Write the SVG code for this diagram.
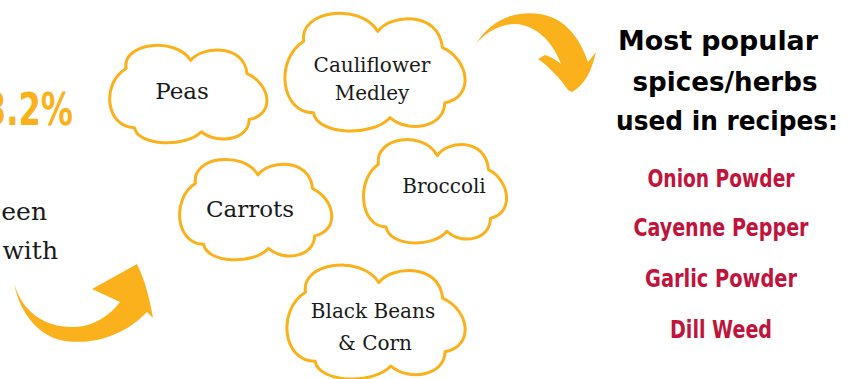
<svg xmlns="http://www.w3.org/2000/svg" xmlns:xlink="http://www.w3.org/1999/xlink" width="858" height="379" viewBox="0 0 858 379">
<style>
.cloud{fill:#fff;stroke:#fbb11b;stroke-width:3;stroke-linejoin:round;vector-effect:non-scaling-stroke}
.lbl{font-family:"DejaVu Serif","Liberation Serif",serif;fill:#1a1a1a;text-anchor:middle}
.arrow{fill:#fbb11b}
.title{font-family:"DejaVu Sans","Liberation Sans",sans-serif;font-weight:bold;font-size:27px;fill:#000;text-anchor:middle}
.spice{font-family:"DejaVu Sans Condensed","DejaVu Sans","Liberation Sans",sans-serif;font-weight:bold;font-size:25px;fill:#c0143c;text-anchor:middle}
.pct{font-family:"DejaVu Sans Condensed","DejaVu Sans","Liberation Sans",sans-serif;font-weight:bold;font-size:44px;fill:#fbb11b}
.side{font-family:"DejaVu Serif","Liberation Serif",serif;font-size:25px;fill:#1a1a1a;text-anchor:end}
</style>
<defs>
<path id="cloud" class="cloud" d="M24,30 C20,5 70,-2 85,22 C95,8 135,5 138,35 C160,45 165,75 140,80 C140,100 110,105 95,92 C80,108 35,106 32,88 C5,88 0,45 24,30 Z"/>
</defs>
<rect width="858" height="379" fill="#fff"/>

<g id="left-text">
<text class="pct" x="-16" y="125" textLength="89" lengthAdjust="spacingAndGlyphs">3.2%</text>
<text class="side" x="47" y="220">een</text>
<text class="side" x="58" y="259">with</text>
</g>

<g id="connectors">
<path class="arrow" d="M14,283 C22,312 45,328 75,327 C95,326 110,315 120,302 L92,289 L137,264 C145,280 150,300 153,318 L147,312 C125,335 95,345 65,341 C40,337 20,315 14,283 Z"/>
<path class="arrow" d="M476,44 C490,20 515,10 540,14 C565,18 580,38 588,62 L596,52 C592,70 585,85 572,92 L568,90 C560,78 548,66 538,59 L545,55 C552,57 556,60 561,64 C552,40 535,25 515,24 C500,24 485,33 476,44 Z"/>
</g>

<g id="node-peas">
<use href="#cloud" transform="translate(100.6,37.9) scale(1.061,1.02)"/>
<text class="lbl" x="182" y="99" font-size="23">Peas</text>
</g>
<g id="node-cauliflower">
<use href="#cloud" transform="translate(274.5,4.3) scale(1.216,1.232)"/>
<text class="lbl" x="372" y="72" font-size="20">Cauliflower</text>
<text class="lbl" x="372" y="100" font-size="20">Medley</text>
</g>
<g id="node-carrots">
<use href="#cloud" transform="translate(170.8,151.85) scale(1.027,1.05)"/>
<text class="lbl" x="250" y="217" font-size="23">Carrots</text>
</g>
<g id="node-broccoli">
<use href="#cloud" transform="translate(355.2,131.8) scale(0.966,1.081)"/>
<text class="lbl" x="444" y="193" font-size="20">Broccoli</text>
</g>
<g id="node-blackbeans">
<use href="#cloud" transform="translate(276.6,256.4) scale(1.203,1.192)"/>
<text class="lbl" x="373" y="318" font-size="20">Black Beans</text>
<text class="lbl" x="375" y="350" font-size="20">&amp; Corn</text>
</g>

<g id="title">
<text class="title" x="718" y="50" textLength="200" lengthAdjust="spacingAndGlyphs">Most popular</text>
<text class="title" x="725" y="91" textLength="185" lengthAdjust="spacingAndGlyphs">spices/herbs</text>
<text class="title" x="727" y="130" textLength="222" lengthAdjust="spacingAndGlyphs">used in recipes:</text>
</g>
<g id="spices">
<text class="spice" x="721" y="187" textLength="147" lengthAdjust="spacingAndGlyphs">Onion Powder</text>
<text class="spice" x="721" y="236" textLength="175" lengthAdjust="spacingAndGlyphs">Cayenne Pepper</text>
<text class="spice" x="721" y="287" textLength="152" lengthAdjust="spacingAndGlyphs">Garlic Powder</text>
<text class="spice" x="721" y="338" textLength="102" lengthAdjust="spacingAndGlyphs">Dill Weed</text>
</g>
</svg>
